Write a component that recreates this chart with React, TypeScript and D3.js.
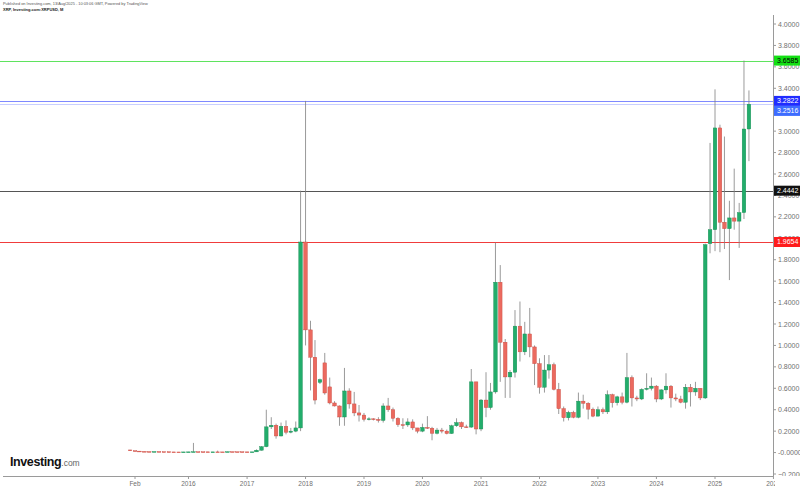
import React from "react";
import * as d3 from "d3";

// monthly candles [open, high, low, close], Jan..Dec of each year
const ohlc2015 = [
  [0.0243, 0.026, 0.015, 0.017],
  [0.017, 0.0178, 0.0125, 0.0135],
  [0.0135, 0.014, 0.0098, 0.011],
  [0.011, 0.0112, 0.0085, 0.0092],
  [0.0092, 0.0095, 0.0078, 0.0082],
  [0.0082, 0.0098, 0.008, 0.0094],
  [0.0094, 0.0096, 0.0078, 0.008],
  [0.008, 0.0082, 0.007, 0.0074],
  [0.0074, 0.0076, 0.0058, 0.006],
  [0.006, 0.0062, 0.005, 0.0055],
  [0.0055, 0.006, 0.005, 0.0054],
  [0.0054, 0.0064, 0.0052, 0.006],
];
const ohlc2016 = [
  [0.006, 0.0068, 0.0056, 0.0066],
  [0.0066, 0.09, 0.006, 0.0078],
  [0.0078, 0.0082, 0.0068, 0.0072],
  [0.0072, 0.0076, 0.0066, 0.007],
  [0.007, 0.0074, 0.0058, 0.0062],
  [0.0062, 0.007, 0.0058, 0.0064],
  [0.0064, 0.018, 0.0058, 0.0062],
  [0.0062, 0.0066, 0.0058, 0.0061],
  [0.0061, 0.009, 0.006, 0.0082],
  [0.0082, 0.0086, 0.007, 0.0074],
  [0.0074, 0.0078, 0.0068, 0.0072],
  [0.0072, 0.0074, 0.0062, 0.0065],
];
const ohlc2017 = [
  [0.0065, 0.0075, 0.006, 0.0063],
  [0.0063, 0.0068, 0.0055, 0.0066],
  [0.0066, 0.03, 0.0062, 0.022],
  [0.022, 0.06, 0.019, 0.055],
  [0.055, 0.4, 0.05, 0.24],
  [0.24, 0.33, 0.22, 0.255],
  [0.255, 0.27, 0.13, 0.155],
  [0.155, 0.28, 0.15, 0.245],
  [0.245, 0.3, 0.17, 0.19],
  [0.19, 0.23, 0.18, 0.2],
  [0.2, 0.29, 0.19, 0.23],
  [0.23, 2.4442, 0.2, 1.9654],
];
const ohlc2018 = [
  [1.9654, 3.2822, 1.0, 1.145],
  [1.145, 1.23, 0.58, 0.89],
  [0.89, 1.05, 0.45, 0.49],
  [0.655, 0.69, 0.64, 0.68],
  [0.837, 0.93, 0.54, 0.556],
  [0.613, 0.7, 0.45, 0.463],
  [0.463, 0.48, 0.43, 0.435],
  [0.435, 0.44, 0.25, 0.332],
  [0.332, 0.79, 0.25, 0.575],
  [0.575, 0.6, 0.41, 0.454],
  [0.454, 0.566, 0.34, 0.37],
  [0.37, 0.444, 0.29, 0.35],
];
const ohlc2019 = [
  [0.35, 0.37, 0.29, 0.31],
  [0.31, 0.33, 0.3, 0.315],
  [0.315, 0.32, 0.3, 0.31],
  [0.31, 0.33, 0.28, 0.3],
  [0.3, 0.46, 0.28, 0.435],
  [0.435, 0.51, 0.38, 0.4],
  [0.4, 0.42, 0.29, 0.32],
  [0.32, 0.33, 0.24, 0.26],
  [0.26, 0.32, 0.22, 0.258],
  [0.258, 0.32, 0.24, 0.286],
  [0.286, 0.31, 0.21, 0.23],
  [0.23, 0.23, 0.18, 0.2],
];
const ohlc2020 = [
  [0.2, 0.27, 0.19, 0.235],
  [0.235, 0.34, 0.22, 0.227],
  [0.227, 0.24, 0.115, 0.18],
  [0.18, 0.23, 0.17, 0.21],
  [0.21, 0.23, 0.18, 0.2],
  [0.2, 0.215, 0.17, 0.178],
  [0.178, 0.26, 0.175, 0.25],
  [0.25, 0.32, 0.24, 0.28],
  [0.28, 0.29, 0.22, 0.24],
  [0.24, 0.26, 0.23, 0.238],
  [0.238, 0.78, 0.23, 0.66],
  [0.66, 0.66, 0.17, 0.22],
];
const ohlc2021 = [
  [0.22, 0.5, 0.2, 0.49],
  [0.49, 0.75, 0.33, 0.42],
  [0.42, 0.65, 0.4, 0.566],
  [0.566, 1.96, 0.55, 1.59],
  [1.59, 1.75, 0.66, 1.03],
  [1.03, 1.06, 0.51, 0.706],
  [0.706, 0.77, 0.51, 0.75],
  [0.75, 1.33, 0.7, 1.18],
  [1.18, 1.41, 0.85, 0.94],
  [0.94, 1.22, 0.91, 1.107],
  [1.107, 1.35, 0.89, 0.986],
  [0.986, 1.0, 0.63, 0.83],
];
const ohlc2022 = [
  [0.83, 0.88, 0.55, 0.61],
  [0.61, 0.91, 0.56, 0.77],
  [0.77, 0.91, 0.69, 0.82],
  [0.82, 0.84, 0.58, 0.59],
  [0.59, 0.65, 0.36, 0.41],
  [0.41, 0.43, 0.29, 0.325],
  [0.325, 0.39, 0.3, 0.375],
  [0.375, 0.39, 0.32, 0.33],
  [0.33, 0.56, 0.32, 0.48],
  [0.48, 0.54, 0.41, 0.46],
  [0.46, 0.47, 0.31, 0.405],
  [0.405, 0.42, 0.33, 0.34],
];
const ohlc2023 = [
  [0.34, 0.43, 0.34, 0.4],
  [0.4, 0.42, 0.36, 0.38],
  [0.38, 0.58, 0.36, 0.54],
  [0.54, 0.55, 0.42, 0.465],
  [0.465, 0.53, 0.44, 0.52],
  [0.52, 0.56, 0.45, 0.47],
  [0.47, 0.93, 0.46, 0.7],
  [0.7, 0.72, 0.43, 0.51],
  [0.51, 0.53, 0.48, 0.5],
  [0.5, 0.6, 0.49, 0.59],
  [0.59, 0.74, 0.58, 0.6],
  [0.6, 0.7, 0.58, 0.62],
];
const ohlc2024 = [
  [0.62, 0.63, 0.47, 0.5],
  [0.5, 0.59, 0.49, 0.585],
  [0.585, 0.74, 0.55, 0.62],
  [0.62, 0.63, 0.42, 0.51],
  [0.51, 0.55, 0.48, 0.5],
  [0.5, 0.53, 0.46, 0.47],
  [0.47, 0.64, 0.41, 0.61],
  [0.61, 0.64, 0.43, 0.566],
  [0.566, 0.66, 0.53, 0.6],
  [0.6, 0.6, 0.49, 0.51],
  [0.51, 1.95, 0.5, 1.94],
  [1.95, 2.89, 1.86, 2.08],
];
const ohlc2025 = [
  [2.08, 3.39, 1.88, 3.03],
  [3.03, 3.06, 1.87, 2.15],
  [2.15, 2.95, 1.9, 2.09],
  [2.09, 2.35, 1.61, 2.19],
  [2.19, 2.65, 2.08, 2.16],
  [2.16, 2.33, 1.91, 2.24],
  [2.24, 3.6585, 2.18, 3.02],
  [3.02, 3.38, 2.72, 3.2516],
];

const firstYear = 2015;
const years = [
  ohlc2015, ohlc2016, ohlc2017, ohlc2018, ohlc2019, ohlc2020,
  ohlc2021, ohlc2022, ohlc2023, ohlc2024, ohlc2025,
];

// x axis labels
const xTickLabels = ["Feb", "2016", "2017", "2018", "2019", "2020", "2021", "2022", "2023", "2024", "2025", "2026"];
const xTickDates = [
  "2015-02-01", "2016-01-01", "2017-01-01", "2018-01-01", "2019-01-01", "2020-01-01",
  "2021-01-01", "2022-01-01", "2023-01-01", "2024-01-01", "2025-01-01", "2026-01-01",
];

// horizontal levels and price tags
const levelValues = [3.6585, 3.2822, 2.4442, 1.9654];
const tagValues = [3.6585, 3.2822, 3.2516, 2.4442, 1.9654];

const levelColors = ["#5fe35f", "#7f89ff", "#555555", "#f03c3c"];
const tagFill = ["#14e014", "#1f2cff", "#3d6cff", "#111111", "#ff1c1c"];
const tagText = ["#000", "#fff", "#fff", "#fff", "#fff"];

const UP = "#22ad6b";
const UP_STROKE = "#168a52";
const DOWN = "#eb6a5f";
const DOWN_STROKE = "#c9483f";
const WICK = "#808080";
const FONT = "'Liberation Sans', Arial, sans-serif";

export default function App() {
  const width = 800;
  const height = 489;
  const axisX = 773;
  const axisY = 476;

  const parse = d3.timeParse("%Y-%m-%d");
  const x = d3
    .scaleTime()
    .domain([new Date(2015, 1, 1), new Date(2025, 0, 1)])
    .range([135, 715]);
  const y = d3.scaleLinear().domain([-0.2, 4.0]).range([474, 24]);

  const candles = years.flatMap((rows, yi) =>
    rows.map((r, mi) => ({
      date: new Date(firstYear + yi, mi, 1),
      o: r[0],
      h: r[1],
      l: r[2],
      c: r[3],
    }))
  );

  const bodyW = 3.6;
  const fmt = d3.format(".4f");
  const yTicks = y.ticks(20);

  // stack price tags so they do not overlap
  const tagH = 10;
  let lastBottom = -Infinity;
  const tags = tagValues.map((v, i) => {
    let cy = y(v);
    if (cy - tagH / 2 < lastBottom) cy = lastBottom + tagH / 2;
    lastBottom = cy + tagH / 2;
    return { v, cy, i };
  });

  return (
    <svg
      width={width}
      height={height}
      style={{ position: "absolute", left: 0, top: 0, background: "#fff" }}
      fontFamily={FONT}
    >
      <defs>
        <clipPath id="xclip">
          <rect x={0} y={0} width={axisX + 2} height={height} />
        </clipPath>
        <clipPath id="yclip">
          <rect x={axisX} y={0} width={width - axisX} height={axisY} />
        </clipPath>
      </defs>

      {/* header */}
      <text x={3} y={5} fontSize={3.9} fill="#555">
        Published on Investing.com, 13/Aug/2025 - 10:03:06 GMT, Powered by TradingView
      </text>
      <text x={3} y={11} fontSize={4} fontWeight={700} fill="#222">
        XRP, Investing.com:XRPUSD, M
      </text>

      {/* horizontal levels */}
      {levelValues.map((v, i) => (
        <line
          key={"lvl" + i}
          x1={0}
          x2={axisX}
          y1={Math.round(y(v)) + 0.5}
          y2={Math.round(y(v)) + 0.5}
          stroke={levelColors[i]}
          strokeWidth={1}
        />
      ))}
      <line
        x1={0}
        x2={axisX}
        y1={Math.round(y(3.2516)) + 0.5}
        y2={Math.round(y(3.2516)) + 0.5}
        stroke="#c9cfff"
        strokeWidth={1}
      />

      {/* candles */}
      {candles.map((d, i) => {
        const cx = x(d.date);
        const up = d.c >= d.o;
        const top = y(Math.max(d.o, d.c));
        const bot = y(Math.min(d.o, d.c));
        return (
          <g key={i}>
            <line x1={cx} x2={cx} y1={y(d.h)} y2={y(d.l)} stroke={WICK} strokeWidth={0.8} />
            <rect
              x={cx - bodyW / 2}
              y={top}
              width={bodyW}
              height={Math.max(bot - top, 0.8)}
              fill={up ? UP : DOWN}
              stroke={up ? UP_STROKE : DOWN_STROKE}
              strokeWidth={0.4}
            />
          </g>
        );
      })}

      {/* right axis */}
      <line x1={axisX + 0.5} x2={axisX + 0.5} y1={15} y2={axisY} stroke="#9a9a9a" />
      <g clipPath="url(#yclip)">
        {yTicks.map((t) => (
          <g key={"yt" + t}>
            <line x1={axisX} x2={axisX + 3} y1={y(t)} y2={y(t)} stroke="#9a9a9a" />
            <text x={axisX + 5} y={y(t) + 2.5} fontSize={7} fill="#707070">
              {Math.abs(t) < 1e-9 ? "-0.0000" : fmt(t)}
            </text>
          </g>
        ))}
      </g>

      {/* price tags */}
      {tags.map((t) => (
        <g key={"tag" + t.i}>
          <rect x={axisX + 1} y={t.cy - tagH / 2} width={width - axisX - 1} height={tagH} fill={tagFill[t.i]} />
          <text x={axisX + 4} y={t.cy + 2.5} fontSize={7} fill={tagText[t.i]}>
            {fmt(t.v)}
          </text>
        </g>
      ))}

      {/* bottom axis */}
      <line x1={3} x2={axisX} y1={axisY + 0.5} y2={axisY + 0.5} stroke="#9a9a9a" />
      <g clipPath="url(#xclip)">
        {xTickDates.map((ds, i) => {
          const tx = x(parse(ds) as Date);
          return (
            <g key={"xt" + i}>
              <line x1={tx} x2={tx} y1={axisY} y2={axisY + 3} stroke="#9a9a9a" />
              <text x={tx} y={486} fontSize={6.5} fill="#707070" textAnchor="middle">
                {xTickLabels[i]}
              </text>
            </g>
          );
        })}
      </g>

      {/* logo */}
      <text x={10} y={466} fontSize={12.5} fontWeight={700} fill="#111" letterSpacing={-0.4}>
        Investing
        <tspan fontSize={8.5} fontWeight={400} fill="#666" letterSpacing={0}>
          .com
        </tspan>
      </text>
    </svg>
  );
}
